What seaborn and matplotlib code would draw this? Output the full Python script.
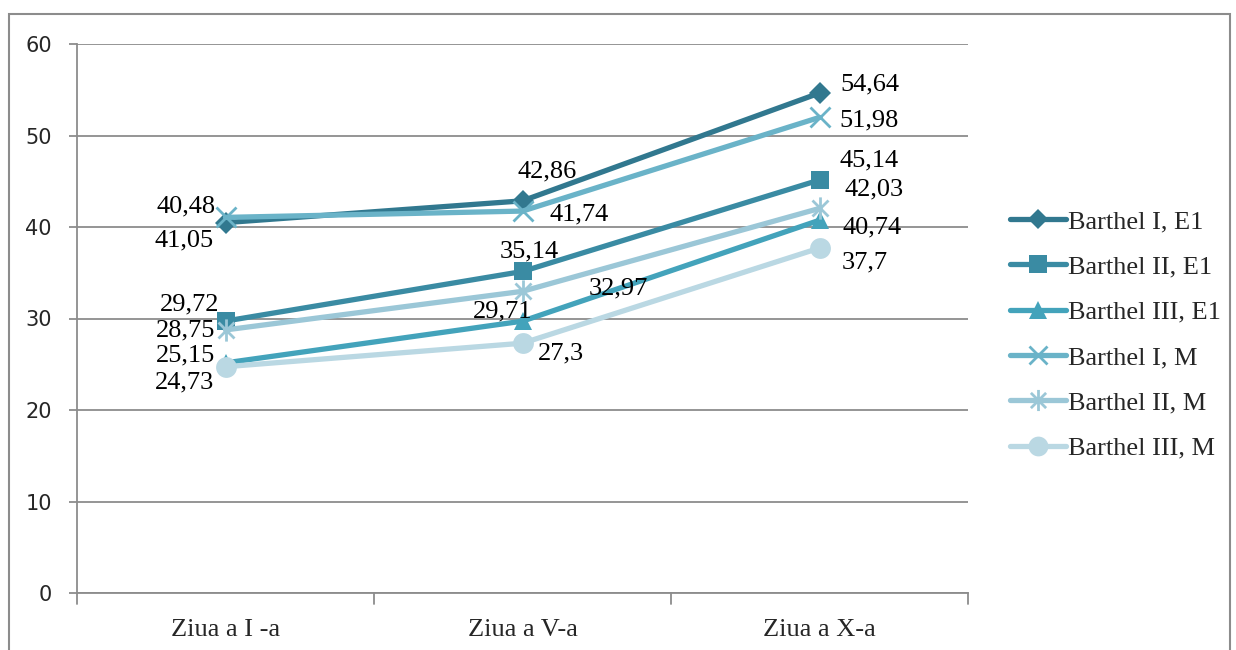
import matplotlib
matplotlib.use("Agg")
import matplotlib.pyplot as plt
from matplotlib.patches import Rectangle
from matplotlib.lines import Line2D
from matplotlib.path import Path
import seaborn as sns
import pandas as pd

# Data
days = ["Ziua a I -a", "Ziua a V-a", "Ziua a X-a"]
series_names = ["Barthel I, E1", "Barthel II, E1", "Barthel III, E1",
                "Barthel I, M", "Barthel II, M", "Barthel III, M"]
barthel_i_e1 = [40.48, 42.86, 54.64]
barthel_ii_e1 = [29.72, 35.14, 45.14]
barthel_iii_e1 = [25.15, 29.71, 40.74]
barthel_i_m = [41.05, 41.74, 51.98]
barthel_ii_m = [28.75, 32.97, 42.03]
barthel_iii_m = [24.73, 27.3, 37.7]
y_ticks = [0, 10, 20, 30, 40, 50, 60]

all_values = [barthel_i_e1, barthel_ii_e1, barthel_iii_e1,
              barthel_i_m, barthel_ii_m, barthel_iii_m]

# asterisk marker: vertical bar plus two diagonals
asterisk = Path([(0, -1), (0, 1), (-0.72, -0.72), (0.72, 0.72), (-0.72, 0.72), (0.72, -0.72)],
                [Path.MOVETO, Path.LINETO, Path.MOVETO, Path.LINETO, Path.MOVETO, Path.LINETO])

# Styles
colors = ["#31788F", "#3A8BA3", "#43A3BB", "#6AB3C8", "#9BC7D7", "#BAD8E3"]
markers = ["D", "s", "^", "x", asterisk, "o"]
msizes = [11, 13, 13, 14, 16, 15]
medgew = [0, 0, 0, 2.0, 2.0, 0]

# label offsets in pixels for each series at each day
label_offsets = [
    [(-39, 16), (25, 29), (50, 9)],
    [(-36, 17), (7, 20), (50, 20)],
    [(-40, 7), (-20, 10), (53, -7)],
    [(-41, -23), (57, -3), (50, -3)],
    [(-40, -1), (96, 3), (55, 19)],
    [(-41, -16), (38, -10), (45, -14)],
]

rows = []
for name, vals in zip(series_names, all_values):
    for i, v in enumerate(vals):
        rows.append({"series": name, "pos": i, "value": v})
df = pd.DataFrame(rows)

sns.set_theme(style="white")
plt.rcParams["font.family"] = ["Liberation Serif", "DejaVu Serif"]

fig = plt.figure(figsize=(12.36, 6.5), dpi=100)
ax = fig.add_axes([77 / 1236, 57 / 650, (968 - 77) / 1236, (593 - 44) / 650])

grid_color = "#8C8C8C"
for name, color, mk, ms, mew in zip(series_names, colors, markers, msizes, medgew):
    sub = df[df["series"] == name]
    sns.lineplot(data=sub, x="pos", y="value", ax=ax, color=color,
                 linewidth=3.8, marker=mk, markersize=ms,
                 markeredgewidth=mew, markeredgecolor=color,
                 markerfacecolor=color, legend=False, zorder=3)

# value labels
for vals, offs in zip(all_values, label_offsets):
    for i, (v, off) in enumerate(zip(vals, offs)):
        ax.annotate(f"{v:g}".replace(".", ","), xy=(i, v), xytext=off,
                    textcoords="offset pixels", ha="center", va="center",
                    fontsize=19, color="#000000", zorder=5)

ax.set_xlim(-0.5, 2.5)
ax.set_ylim(0, 60)
ax.set_yticks(y_ticks)
ax.set_yticklabels([str(t) for t in y_ticks], fontsize=15, family="DejaVu Sans")
ax.set_xticks(range(len(days)))
ax.set_xticklabels(days, fontsize=19)
ax.tick_params(axis="x", length=0, pad=19)
ax.tick_params(axis="y", length=6, color=grid_color, width=1.3, pad=12, left=True)
for v in [-0.5, 0.5, 1.5, 2.5]:
    ax.plot([v, v], [0, -1.2], color=grid_color, lw=1.3, clip_on=False)
ax.set_xlabel("")
ax.set_ylabel("")
ax.grid(axis="y", color=grid_color, linewidth=1.3)
ax.grid(axis="x", visible=False)
ax.set_axisbelow(True)
for side in ["top", "right"]:
    ax.spines[side].set_visible(False)
for side in ["left", "bottom"]:
    ax.spines[side].set_color(grid_color)
    ax.spines[side].set_linewidth(1.3)

# legend
handles = [Line2D([0], [0], color=c, lw=3.8, marker=m, markersize=s * 0.95,
                  markeredgewidth=w, markeredgecolor=c, markerfacecolor=c)
           for c, m, s, w in zip(colors, markers, msizes, medgew)]
fig.legend(handles, series_names, loc="upper left",
           bbox_to_anchor=(999 / 1236, 1 - 199 / 650), frameon=False,
           fontsize=19, handlelength=2.15, handletextpad=0.05,
           labelspacing=0.83, borderaxespad=0)

# outer frame
fig.patches.append(Rectangle((9 / 1236, -0.05), (1230 - 9) / 1236, 0.05 + 636 / 650,
                             transform=fig.transFigure, fill=False,
                             edgecolor=grid_color, linewidth=1.5))

fig.savefig("out.png", dpi=100)
